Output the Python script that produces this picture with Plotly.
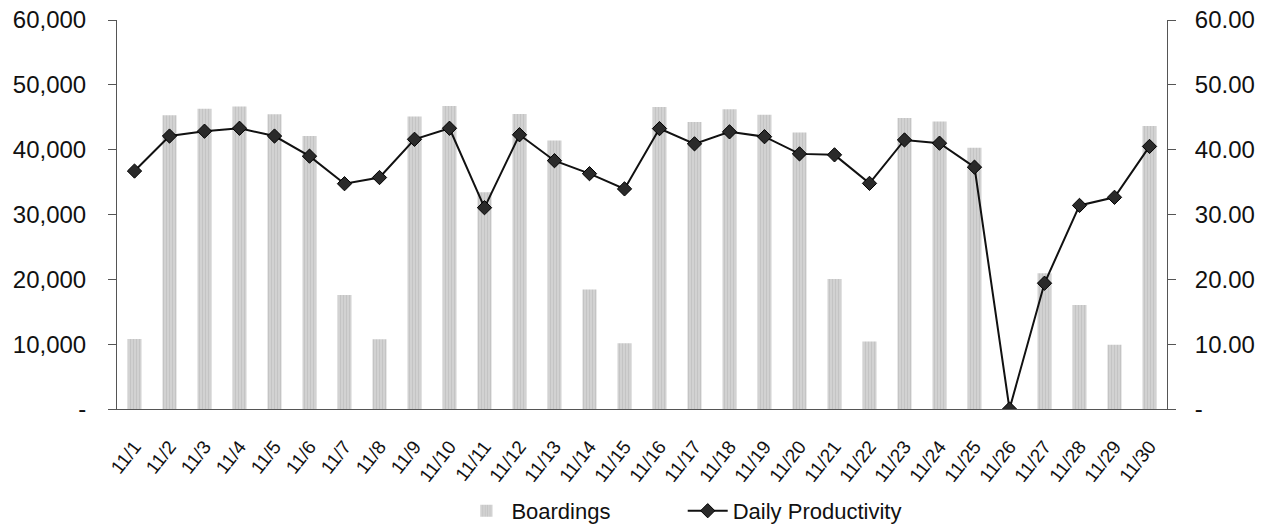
import plotly.graph_objects as go

dates = [f"11/{d}" for d in range(1, 31)]
boardings = [10800, 45300, 46300, 46650, 45450, 42100, 17600, 10750, 45100, 46750,
             33450, 45500, 41400, 18450, 10150, 46600, 44250, 46250, 45400, 42650,
             20050, 10400, 44900, 44350, 40300, 0, 20950, 16050, 9900, 43650]
productivity = [36.7, 42.1, 42.85, 43.3, 42.1, 39.0, 34.75, 35.7, 41.6, 43.3,
                31.05, 42.3, 38.3, 36.3, 33.95, 43.25, 40.9, 42.75, 42.0, 39.35,
                39.2, 34.8, 41.5, 41.0, 37.3, 0.0, 19.4, 31.4, 32.65, 40.5]

left_vals = [0, 10000, 20000, 30000, 40000, 50000, 60000]
left_text = ["-", "10,000", "20,000", "30,000", "40,000", "50,000", "60,000"]
right_vals = [0, 10, 20, 30, 40, 50, 60]
right_text = ["-", "10.00", "20.00", "30.00", "40.00", "50.00", "60.00"]

fig = go.Figure()
fig.add_trace(go.Bar(
    x=dates, y=boardings, name="Boardings" + "\u00a0" * 11,
    marker=dict(color="#c9c9c9", line=dict(width=0),
                pattern=dict(shape="|", fgcolor="#b4b4b4", bgcolor="#d2d2d2", size=3, solidity=0.3)),
    width=0.4,
))
fig.add_trace(go.Scatter(
    x=dates, y=productivity, name="Daily Productivity", yaxis="y2",
    mode="lines+markers",
    line=dict(color="#111111", width=2),
    marker=dict(symbol="diamond", size=11, color="#2a2a2a", line=dict(color="#000000", width=1)),
))

axis_font = dict(family="Liberation Sans, Arial, sans-serif", size=24, color="#111111")
fig.update_layout(
    width=1270, height=525,
    margin=dict(l=117, r=103, t=20, b=116, autoexpand=False),
    paper_bgcolor="white", plot_bgcolor="white",
    font=dict(family="Liberation Sans, Arial, sans-serif", color="#111111"),
    showlegend=True,
    legend=dict(orientation="h", x=0.328, xanchor="left", y=-0.262, yanchor="middle",
                font=dict(size=22), itemwidth=40, tracegroupgap=0),
    xaxis=dict(range=[-0.5, 29.5], tickangle=-52, showline=True, linecolor="#555555",
               linewidth=1, ticks="", showgrid=False, tickfont=dict(size=19),
               ticklabelstandoff=18, automargin=False, ticklabeloverflow="allow"),
    yaxis=dict(range=[0, 60000], tickvals=left_vals, ticktext=left_text, showline=True,
               linecolor="#555555", linewidth=1, ticks="outside", ticklen=8, tickcolor="#555555",
               showgrid=False, zeroline=False, tickfont=axis_font, ticklabelstandoff=17,
               automargin=False, ticklabeloverflow="allow"),
    yaxis2=dict(range=[0, 60], tickvals=right_vals, ticktext=right_text, overlaying="y",
                side="right", showline=True, linecolor="#555555", linewidth=1, ticks="outside",
                ticklen=8, tickcolor="#555555", showgrid=False, zeroline=False, tickfont=axis_font,
                ticklabelstandoff=14, automargin=False, ticklabeloverflow="allow"),
)

fig.write_html(
    "out.html",
    config={"displayModeBar": False},
    post_script="document.body.style.margin='0';document.body.style.overflow='hidden';",
)
